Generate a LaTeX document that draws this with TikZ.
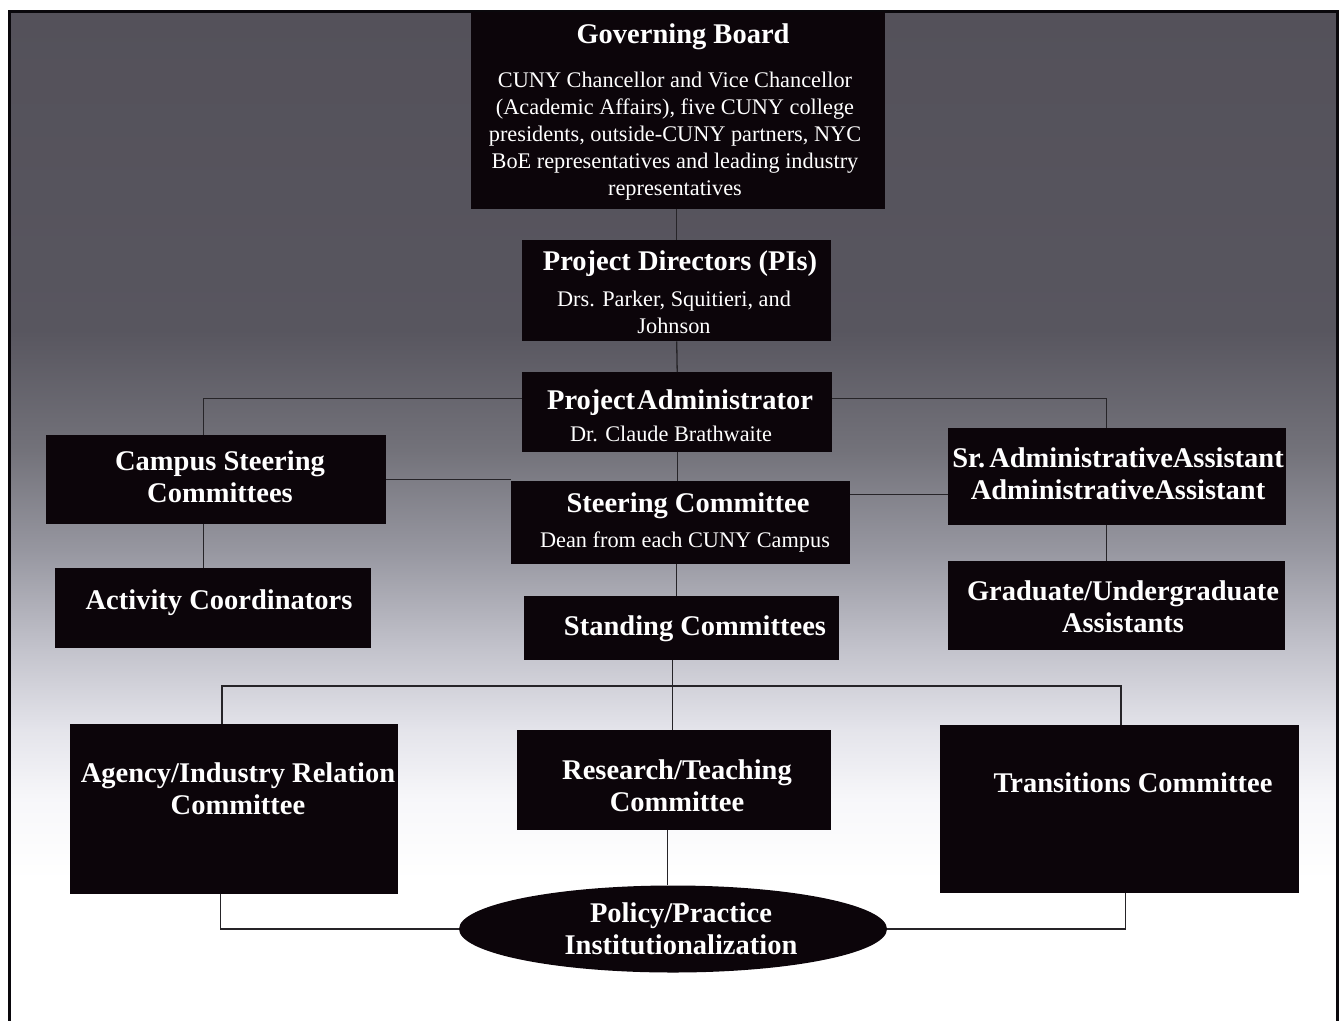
\documentclass[tikz,border=0pt]{standalone}
\usepackage{fontspec}
\setmainfont{Liberation Serif}
\usetikzlibrary{shapes.geometric}

\definecolor{boxfill}{RGB}{12,5,10}
\definecolor{linkcol}{RGB}{38,36,40}
\definecolor{framecol}{RGB}{10,8,12}

% backdrop: dark slate at the top fading to white towards the bottom
\pgfdeclareverticalshading{bgfade}{100bp}{%
  rgb(0bp)=(1,1,1);
  rgb(25bp)=(1,1,1);
  rgb(31.94bp)=(1,1,1);
  rgb(35.90bp)=(0.97,0.97,0.98);
  rgb(39.37bp)=(0.894,0.894,0.92);
  rgb(43.34bp)=(0.765,0.765,0.80);
  rgb(48.29bp)=(0.59,0.59,0.627);
  rgb(53.25bp)=(0.45,0.447,0.478);
  rgb(59.19bp)=(0.345,0.337,0.373);
  rgb(75bp)=(0.329,0.318,0.353);
  rgb(100bp)=(0.329,0.318,0.353)}

\newcommand\boxtitle{\fontsize{28.5}{32.5}\selectfont\bfseries}
\newcommand\boxbody{\fontsize{22.3}{27}\selectfont}

% multi-line labels are placed by the baseline of their last line
\tikzset{
  orgbox/.style={rectangle, fill=boxfill, draw=none, inner sep=0pt,
                 anchor=north west},
  ttl/.style={text=white, font=\boxtitle, align=center, anchor=base, inner sep=0pt},
  sub/.style={text=white, font=\boxbody, align=center, anchor=base, inner sep=0pt},
  link/.style={draw=linkcol, line width=1.3pt},
}

\begin{document}
\begin{tikzpicture}[x=1pt, y=-1pt]
  % canvas
  \fill[white] (0,0) rectangle (1343,1020);
  \useasboundingbox (0,0) rectangle (1343,1020);
  \shade[shading=bgfade] (9,11) rectangle (1337,1020);
  \draw[framecol, line width=3pt] (9,1021) -- (9,11) -- (1337,11) -- (1337,1021);

  % boxes
  \node[orgbox, minimum width=414pt, minimum height=197pt] (gb) at (471,12) {};
  \node[orgbox, minimum width=309pt, minimum height=101pt] (pd) at (522,240) {};
  \node[orgbox, minimum width=310pt, minimum height=80pt]  (pa) at (522,372) {};
  \node[orgbox, minimum width=340pt, minimum height=89pt]  (cs) at (46,435) {};
  \node[orgbox, minimum width=339pt, minimum height=83pt]  (sc) at (511,481) {};
  \node[orgbox, minimum width=338pt, minimum height=97pt]  (sr) at (948,428) {};
  \node[orgbox, minimum width=316pt, minimum height=80pt]  (ac) at (55,568) {};
  \node[orgbox, minimum width=315pt, minimum height=64pt]  (st) at (524,596) {};
  \node[orgbox, minimum width=337pt, minimum height=89pt]  (gu) at (948,561) {};
  \node[orgbox, minimum width=328pt, minimum height=170pt] (ag) at (70,724) {};
  \node[orgbox, minimum width=314pt, minimum height=100pt] (rt) at (517,730) {};
  \node[orgbox, minimum width=359pt, minimum height=168pt] (tr) at (940,725) {};
  \node[ellipse, fill=boxfill, inner sep=0pt, minimum width=428pt,
        minimum height=87pt] (pp) at (673,929) {};

  % connectors
  \coordinate (busL) at (222,686);
  \coordinate (busR) at (1121,686);
  \draw[link] (pd.north |- gb.south) -- (pd.north);
  \draw[link] (pd.south) -- (pa.north);
  \draw[link] ([yshift=14pt]pa.west) -| ([xshift=-13pt]cs.north);
  \draw[link] ([yshift=14pt]pa.east) -| ([xshift=-11pt]sr.north);
  \draw[link] (cs.east) -- (cs.east -| sc.west);
  \draw[link] (pa.south) -- (pa.south |- sc.north);
  \draw[link] ([yshift=28pt]sc.east) -- ([yshift=28pt]sc.east -| sr.west);
  \draw[link] ([xshift=-13pt]cs.south) -- ([xshift=-13pt]cs.south |- ac.north);
  \draw[link] ([xshift=-11pt]sr.south) -- ([xshift=-11pt]sr.south |- gu.north);
  \draw[link] ([xshift=-4pt]sc.south) -- ([xshift=-4pt]sc.south |- st.north);
  \draw[link] ([xshift=-9.5pt]st.south) -- ([xshift=-9.5pt]st.south |- rt.north);
  \draw[link] (ag.north -| busL) -- (busL) -- (busR) -- (tr.north -| busR);
  \draw[link] ([xshift=-7pt]rt.south) -- ([xshift=-7pt]rt.south |- pp.north);
  \draw[link] ([xshift=-14pt]ag.south) |- (pp.west);
  \draw[link] ([xshift=5.5pt]tr.south) |- (pp.east);

  % labels
  \node[ttl] (gbT) at (683,43) {Governing Board};
  \node[sub] (gbS) at (675,195) {CUNY Chancellor and Vice Chancellor\\(Academic Affairs), five CUNY college\\presidents, outside-CUNY partners, NYC\\BoE representatives and leading industry\\representatives};
  \node[ttl] (pdT) at (680,270) {Project Directors (PIs)};
  \node[sub] (pdS) at (674,333) {Drs. Parker, Squitieri, and\\Johnson};
  \node[ttl] (paT) at (680,409) {Project\kern2pt Administrator};
  \node[sub] (paS) at (671,441) {Dr. Claude Brathwaite};
  \node[ttl] (csT) at (220,502.5) {Campus Steering\\Committees};
  \node[ttl] (scT) at (688,512) {Steering Committee};
  \node[sub] (scS) at (685,547) {Dean from each CUNY Campus};
  \node[ttl] (srT) at (1118,499.5) {Sr.\kern4pt AdministrativeAssistant\\AdministrativeAssistant};
  \node[ttl] (acT) at (219,609) {Activity Coordinators};
  \node[ttl] (stT) at (695,635) {Standing Committees};
  \node[ttl] (guT) at (1123,632.5) {Graduate/Undergraduate\\Assistants};
  \node[ttl] (agT) at (238,814.5) {Agency/Industry Relation\\Committee};
  \node[ttl] (rtT) at (677,811.5) {Research/Teaching\\Committee};
  \node[ttl] (trT) at (1133,792) {Transitions Committee};
  \node[ttl] (ppT) at (681,954.5) {Policy/Practice\\Institutionalization};
\end{tikzpicture}
\end{document}
